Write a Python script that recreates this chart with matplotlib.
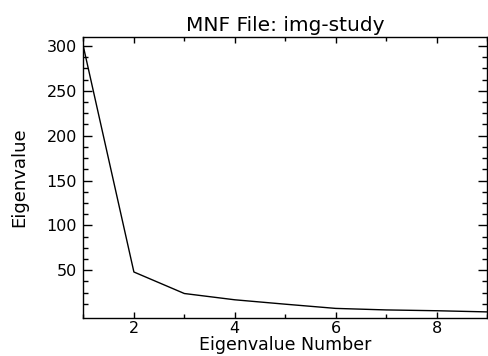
import matplotlib
matplotlib.use('Agg')
import matplotlib.pyplot as plt
from matplotlib.ticker import MultipleLocator

# Datos
numero = [1, 2, 3, 4, 5, 6, 7, 8, 9]
eigenvalor = [299, 48, 24, 17, 12.1, 7.4, 5.7, 4.8, 3.5]
etiquetas_y = [50, 100, 150, 200, 250, 300]
etiquetas_x = [2, 4, 6, 8]

plt.rcParams['font.family'] = 'DejaVu Sans'
plt.rcParams['font.size'] = 11.5

fig = plt.figure(figsize=(4.88, 3.56), dpi=100)
ax = fig.add_axes([0.171, 0.107, 0.827, 0.790])

ax.plot(numero, eigenvalor, color='black', linewidth=1.0)

ax.set_xlim(1, 9)
ax.set_ylim(-3.2, 310.4)
ax.set_xticks(etiquetas_x)
ax.set_yticks(etiquetas_y)
ax.xaxis.set_minor_locator(MultipleLocator(1))
# marcas menores cada 12.5, sin la del cero
menores_y = [m * 12.5 for m in range(1, 25) if m % 4 != 0]
ax.set_yticks(menores_y, minor=True)

ax.tick_params(axis='both', which='both', direction='in', top=True, right=True, width=1.0, colors='black')
ax.tick_params(axis='x', which='major', length=4.3, pad=2.5)
ax.tick_params(axis='x', which='minor', length=3.2)
ax.tick_params(axis='y', which='major', length=6.5, pad=4.7)
ax.tick_params(axis='y', which='minor', length=3.4)

for lado in ax.spines.values():
    lado.set_linewidth(1.0)

ax.set_title('MNF File: img-study', pad=4, fontsize=14.5)
ax.set_xlabel('Eigenvalue Number', labelpad=0, fontsize=12.5)
ax.set_ylabel('Eigenvalue', labelpad=13, fontsize=13)

fig.savefig('out.png', dpi=100)
